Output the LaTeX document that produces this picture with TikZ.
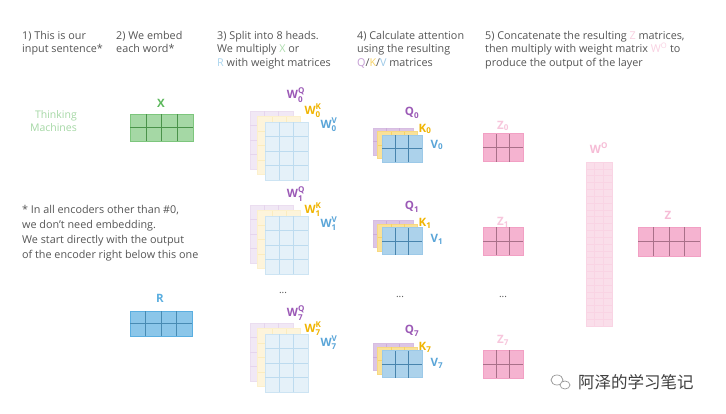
\documentclass[tikz,border=0pt]{standalone}
\usepackage{fontspec}
\usepackage{amsmath}
\setmainfont{Open Sans}
\newfontfamily\cjk{Noto Sans CJK SC}
\usetikzlibrary{calc}
\definecolor{txt}{HTML}{555555}
\definecolor{qc}{HTML}{9B59B6}
\definecolor{kc}{HTML}{F0B400}
\definecolor{vc}{HTML}{5AA5D8}
\definecolor{xc}{HTML}{5CB85C}
\definecolor{rc}{HTML}{5AAEE0}
\definecolor{zc}{HTML}{F2A0C4}
\newcommand{\mymat}[8]{%
  \node[#8, minimum width=#4pt, minimum height=#5pt, inner sep=0pt, outer sep=0pt] (#1) at (#2,#3) {};
  \foreach \i in {1,...,#6}{\ifnum\i<#6
    \draw[#8 line] ($(#1.south west)!\i/#6!(#1.south east)$) -- ($(#1.north west)!\i/#6!(#1.north east)$);\fi}
  \foreach \j in {1,...,#7}{\ifnum\j<#7
    \draw[#8 line] ($(#1.south west)!\j/#7!(#1.north west)$) -- ($(#1.south east)!\j/#7!(#1.north east)$);\fi}
}
\begin{document}
\begin{tikzpicture}[x=1pt,y=-1pt,
  head/.style={anchor=north west, inner sep=0pt, align=left, text=txt, font=\fontsize{10.8}{13.5}\selectfont},
  note/.style={anchor=north west, inner sep=0pt, align=left, text=txt, font=\fontsize{10.8}{15}\selectfont},
  xm/.style={fill=xc!55, draw=xc!80},
  xm line/.style={draw=xc!80!black, line width=0.5pt},
  rm/.style={fill=rc!70, draw=rc},
  rm line/.style={draw=rc!80!black, line width=0.5pt},
  wq/.style={fill=qc!14, draw=qc!20},
  wq line/.style={draw=qc!25, line width=0.5pt},
  wk/.style={fill=kc!14, draw=kc!20},
  wk line/.style={draw=kc!25, line width=0.5pt},
  wv/.style={fill=vc!16, draw=vc!30},
  wv line/.style={draw=vc!40, line width=0.6pt},
  mq/.style={fill=qc!35, draw=qc!40},
  mq line/.style={draw=qc!50},
  mk/.style={fill=kc!40, draw=kc!50},
  mk line/.style={draw=kc!60},
  mv/.style={fill=vc!50, draw=vc!60},
  mv line/.style={draw=vc!80!black, line width=0.5pt},
  zm/.style={fill=zc!80, draw=zc},
  zm line/.style={draw=zc!70!black, line width=0.5pt},
  wo/.style={fill=zc!35, draw=zc!45},
  wo line/.style={draw=zc!45, line width=0.4pt},
  lq/.style={text=qc, font=\fontsize{11.5}{12}\selectfont\bfseries, inner sep=0pt},
  lk/.style={text=kc, font=\fontsize{11.5}{12}\selectfont\bfseries, inner sep=0pt},
  lv/.style={text=vc, font=\fontsize{11.5}{12}\selectfont\bfseries, inner sep=0pt},
  lz/.style={text=zc, font=\fontsize{11.5}{12}\selectfont\bfseries, inner sep=0pt},
  dots/.style={text=txt, font=\fontsize{10}{12}\selectfont, inner sep=0pt}]
\useasboundingbox (0,0) rectangle (726,413);
\fill[white] (0,0) rectangle (726,413);
% headings
\node[head] (h1) at (22,31) {1) This is our\\input sentence*};
\node[head] (h2) at (116,31) {2) We embed\\each word*};
\node[head] (h3) at (217,31) {3) Split into 8 heads.\\We multiply {\color{xc!50}X} or\\{\color{rc!50}R} with weight matrices};
\node[head] (h4) at (357,31) {4) Calculate attention\\using the resulting\\{\color{qc!60}Q}/{\color{kc!60}K}/{\color{vc!60}V} matrices};
\node[head] (h5) at (485,31) {5) Concatenate the resulting {\color{zc!50}Z} matrices,\\then multiply with weight matrix {\color{zc!50}W\textsuperscript{O}} to\\produce the output of the layer};
% input sentence
\node[anchor=north east, inner sep=0pt, align=right, text=xc!55, font=\fontsize{10.5}{13}\selectfont] (sent) at (77,110) {Thinking\\Machines};
% footnote
\node[note] (fn) at (22,205) {* In all encoders other than \#0,\\we don't need embedding.\\We start directly with the output\\of the encoder right below this one};
% X and R
\mymat{X}{161.5}{127.5}{63}{27}{4}{2}{xm}
\node[text=xc, font=\fontsize{11.5}{12}\selectfont\bfseries, inner sep=0pt] (Xl) at (161,103) {X};
\mymat{R}{161}{323.5}{62}{25}{4}{2}{rm}
\node[text=rc, font=\fontsize{11.5}{12}\selectfont\bfseries, inner sep=0pt] (Rl) at (160,298) {R};
% weight matrices, three heads shown
\foreach \r/\cy/\ly/\n in {0/151/95/0, 1/245/194/1, 7/363/313/7}{
  \mymat{wq\r}{271.5}{\cy-11}{43}{58}{3}{4}{wq}
  \mymat{wk\r}{279}{\cy-5.5}{43}{58}{3}{4}{wk}
  \mymat{wv\r}{286.5}{\cy}{43}{58}{3}{4}{wv}
  \node[lq] (wql\r) at (296,\ly) {$\text{W}_{\text{\n}}^{\text{Q}}$};
  \node[lk] (wkl\r) at (313,\ly+16) {$\text{W}_{\text{\n}}^{\text{K}}$};
  \node[lv] (wvl\r) at (329,\ly+30) {$\text{W}_{\text{\n}}^{\text{V}}$};
}
% Q K V
\foreach \r/\cy/\ly/\n in {0/148.5/113/0, 1/241/207/1, 7/364/331/7}{
  \mymat{q\r}{393}{\cy-7}{40}{27}{3}{2}{mq}
  \mymat{k\r}{397.5}{\cy-3.5}{40}{27}{3}{2}{mk}
  \mymat{v\r}{402}{\cy}{40}{27}{3}{2}{mv}
  \node[lq] (ql\r) at (412,\ly) {$\text{Q}_{\text{\n}}$};
  \node[lk] (kl\r) at (425,\ly+16) {$\text{K}_{\text{\n}}$};
  \node[lv] (vl\r) at (437,\ly+32) {$\text{V}_{\text{\n}}$};
}
% Z
\foreach \r/\cy/\ly/\n in {0/147.5/126/0, 1/241/222/1, 7/364/340/7}{
  \mymat{z\r}{503}{\cy}{40}{28}{3}{2}{zm}
  \node[lz, text=zc!60] (zl\r) at (503,\ly) {$\text{Z}_{\text{\n}}$};
}
\node[dots] (d1) at (283,293) {...};
\node[dots] (d2) at (400,297) {...};
\node[dots] (d3) at (503,297) {...};
% W^O
\mymat{WO}{599}{244}{26}{164}{3}{24}{wo}
\node[lz, text=zc!70] (WOl) at (599,148) {$\text{W}^{\text{O}}$};
% final Z
\mymat{Z}{669}{241.5}{62}{29}{4}{2}{zm}
\node[lz, text=zc!70] (Zl) at (668,215) {Z};
% watermark
\node[inner sep=0pt] (icon) at (562,382) {};
\draw[gray!80, line width=0.7pt] (557,380) ellipse (6pt and 5pt);
\draw[gray!80, line width=0.7pt, fill=white] (565,385) ellipse (5pt and 4pt);
\node[anchor=west, inner sep=0pt, text=black!75, font=\cjk\fontsize{16.5}{18}\selectfont] (wm) at (578,382) {阿泽的学习笔记};
\end{tikzpicture}
\end{document}
